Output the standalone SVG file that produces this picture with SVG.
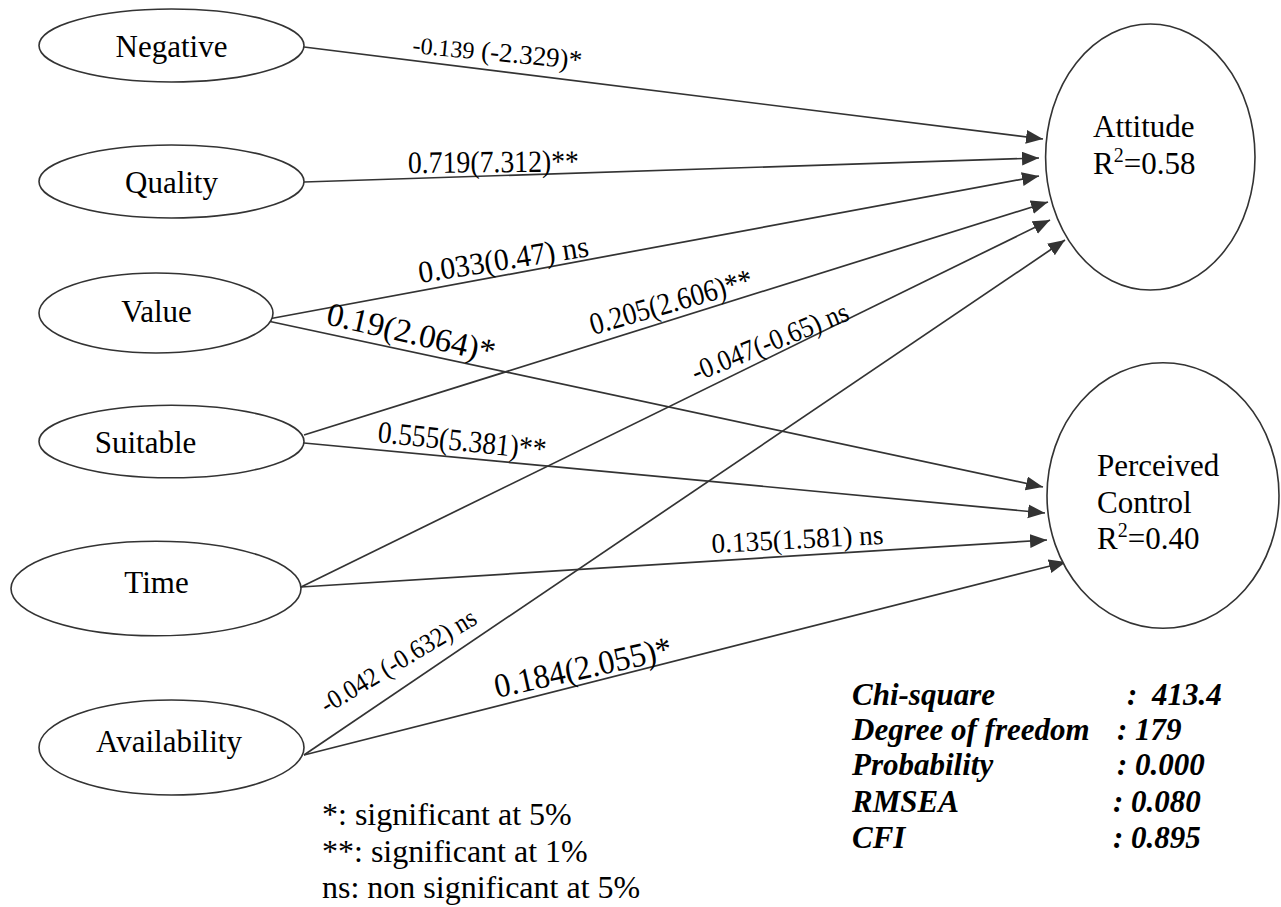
<svg xmlns="http://www.w3.org/2000/svg" width="1281" height="907" viewBox="0 0 1281 907">
<style>
.node{fill:#fff;stroke:#333;stroke-width:1.6}
.nt{font-family:"Liberation Serif","Times New Roman",serif;font-size:31px;fill:#000}
.lbl{font-family:"Liberation Serif","Times New Roman",serif;fill:#000}
.edge{stroke:#333;stroke-width:1.7;fill:none;marker-end:url(#arr)}
.st{font-family:"Liberation Serif","Times New Roman",serif;font-size:31px;font-weight:bold;font-style:italic;fill:#000}
.lg{font-family:"Liberation Serif","Times New Roman",serif;font-size:32px;fill:#000}
</style>
<defs>
<marker id="arr" markerUnits="userSpaceOnUse" markerWidth="18" markerHeight="16" refX="17" refY="7" orient="auto">
<path d="M0,0 L17,7 L0,14 z" fill="#333"/>
</marker>
</defs>
<rect width="1281" height="907" fill="#fff"/>
<g id="connectors">
<line class="edge" x1="304" y1="47" x2="1043" y2="139"/>
<line class="edge" x1="304" y1="182" x2="1039" y2="158"/>
<line class="edge" x1="263" y1="320" x2="1039" y2="176"/>
<line class="edge" x1="263" y1="320" x2="1043" y2="487"/>
<line class="edge" x1="304" y1="435" x2="1048" y2="202"/>
<line class="edge" x1="304" y1="443" x2="1045" y2="513"/>
<line class="edge" x1="301" y1="587" x2="1050" y2="220"/>
<line class="edge" x1="301" y1="587" x2="1047" y2="540"/>
<line class="edge" x1="304" y1="755" x2="1065" y2="240"/>
<line class="edge" x1="304" y1="755" x2="1066" y2="562"/>
</g>
<g id="edge-labels">
<text class="lbl" transform="translate(412,53) rotate(5.5)"><tspan font-size="24">-0.139</tspan><tspan font-size="27"> (-2.329)*</tspan></text>
<text class="lbl" font-size="31" transform="translate(408,173) rotate(-0.5)" textLength="171" lengthAdjust="spacingAndGlyphs">0.719(7.312)**</text>
<text class="lbl" font-size="31" transform="translate(420,283) rotate(-9)" textLength="172" lengthAdjust="spacingAndGlyphs">0.033(0.47) ns</text>
<text class="lbl" font-size="33" transform="translate(325,324) rotate(13)" textLength="172" lengthAdjust="spacingAndGlyphs">0.19(2.064)*</text>
<text class="lbl" font-size="31" transform="translate(593,335) rotate(-16)" textLength="168" lengthAdjust="spacingAndGlyphs">0.205(2.606)**</text>
<text class="lbl" font-size="29" transform="translate(696,382) rotate(-22)" textLength="167" lengthAdjust="spacingAndGlyphs">-0.047(-0.65) ns</text>
<text class="lbl" font-size="31" transform="translate(377,442) rotate(6)" textLength="169" lengthAdjust="spacingAndGlyphs">0.555(5.381)**</text>
<text class="lbl" font-size="28" transform="translate(712,553) rotate(-3)" textLength="172" lengthAdjust="spacingAndGlyphs">0.135(1.581) ns</text>
<text class="lbl" font-size="27" transform="translate(327,714) rotate(-31)" textLength="177" lengthAdjust="spacingAndGlyphs">-0.042 (-0.632) ns</text>
<text class="lbl" font-size="34" transform="translate(497,698) rotate(-12.5)" textLength="181" lengthAdjust="spacingAndGlyphs">0.184(2.055)*</text>
</g>
<g id="node-negative"><ellipse class="node" cx="171.5" cy="45.5" rx="132.5" ry="36.5"/><text class="nt" x="171.5" y="57" text-anchor="middle">Negative</text></g>
<g id="node-quality"><ellipse class="node" cx="171.5" cy="181.5" rx="132.5" ry="36.5"/><text class="nt" x="171.5" y="192.5" text-anchor="middle">Quality</text></g>
<g id="node-value"><ellipse class="node" cx="156" cy="313" rx="117" ry="40"/><text class="nt" x="156.5" y="321.5" text-anchor="middle">Value</text></g>
<g id="node-suitable"><ellipse class="node" cx="171.5" cy="441.5" rx="132.5" ry="36.3"/><text class="nt" x="145.5" y="453" text-anchor="middle">Suitable</text></g>
<g id="node-time"><ellipse class="node" cx="156" cy="588.5" rx="145" ry="47.3"/><text class="nt" x="156.5" y="593.3" text-anchor="middle">Time</text></g>
<g id="node-availability"><ellipse class="node" cx="171.5" cy="747.5" rx="132.5" ry="47.5"/><text class="nt" x="169" y="752.3" text-anchor="middle">Availability</text></g>
<g id="node-attitude"><ellipse class="node" cx="1150.3" cy="157" rx="104.7" ry="133"/>
<text class="nt" x="1093" y="137">Attitude</text>
<text class="nt" x="1093" y="174">R<tspan font-size="20" dy="-12">2</tspan><tspan dy="12">=0.58</tspan></text></g>
<g id="node-perceived-control"><ellipse class="node" cx="1163" cy="495.5" rx="116" ry="132.8"/>
<text class="nt" x="1097" y="476">Perceived</text>
<text class="nt" x="1097" y="512.7">Control</text>
<text class="nt" x="1097" y="549">R<tspan font-size="20" dy="-12">2</tspan><tspan dy="12">=0.40</tspan></text></g>
<g id="legend">
<text class="lg" x="322" y="825">*: significant at 5%</text>
<text class="lg" x="322" y="862">**: significant at 1%</text>
<text class="lg" x="322" y="898">ns: non significant at 5%</text>
</g>
<g id="fit-stats">
<text class="st" x="852" y="705">Chi-square</text><text class="st" x="1127" y="705">:</text><text class="st" x="1152" y="705">413.4</text>
<text class="st" x="852" y="740">Degree of freedom</text><text class="st" x="1117" y="740">: 179</text>
<text class="st" x="852" y="775">Probability</text><text class="st" x="1117" y="775">: 0.000</text>
<text class="st" x="852" y="811.7">RMSEA</text><text class="st" x="1113" y="811.7">: 0.080</text>
<text class="st" x="852" y="848.3">CFI</text><text class="st" x="1113" y="848.3">: 0.895</text>
</g>
</svg>
